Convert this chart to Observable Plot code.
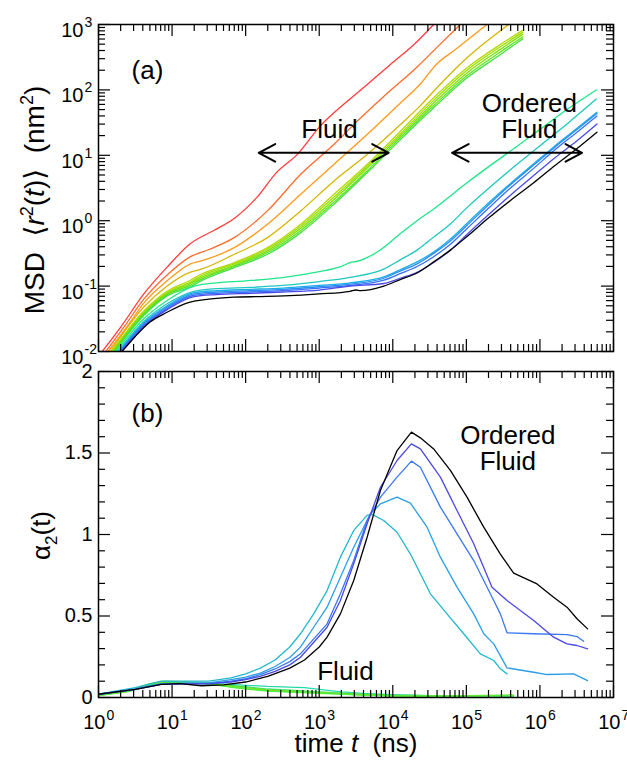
<!DOCTYPE html>
<html><head><meta charset="utf-8">
<script src="https://cdn.jsdelivr.net/npm/d3@7"></script>
<script src="https://cdn.jsdelivr.net/npm/@observablehq/plot@0.6"></script>
<style>
body{margin:0;background:#fff;}
#chart{width:627px;}
#chart svg{display:block;}
</style>
</head><body><div id="chart"></div>
<script>
// ---------- Panel (a): MSD, values as [log10 t(ns), log10 MSD(nm^2)] ----------
const msdRed     = [[0.05,-2.0],[0.3,-1.63],[0.616,-1.12],[0.933,-0.71],[1.25,-0.35],[1.567,-0.15],[1.84,0.03],[2.156,0.36],[2.43,0.75],[2.7,1.01],[3.016,1.45],[3.333,1.78],[3.65,2.08],[3.968,2.39],[4.285,2.69],[4.556,3.0]];
const msdOrangeRed = [[0.1,-2.0],[0.35,-1.62],[0.616,-1.2],[0.933,-0.83],[1.25,-0.55],[1.5,-0.44],[1.839,-0.262],[2.292,0.146],[2.745,0.706],[3.198,1.165],[3.515,1.52],[3.877,1.9],[4.33,2.35],[4.6,2.65],[4.918,3.0]];
const msdOrange  = [[0.13,-2.0],[0.4,-1.6],[0.616,-1.26],[0.933,-0.92],[1.25,-0.66],[1.386,-0.619],[1.839,-0.415],[2.292,-0.058],[2.745,0.4],[3.198,0.859],[3.65,1.318],[4.104,1.8],[4.375,2.09],[4.6,2.4],[4.83,2.6],[5.28,3.0]];
const msdGold    = [[0.16,-2.0],[0.616,-1.32],[0.933,-1.0],[1.25,-0.787],[1.386,-0.746],[1.839,-0.517],[2.292,-0.262],[2.745,0.146],[3.198,0.604],[3.65,1.012],[4.104,1.471],[4.375,1.76],[4.556,1.98],[5.009,2.49],[5.575,3.0]];
const msdGreen1  = [[0.18,-2.0],[0.616,-1.38],[0.933,-1.08],[1.25,-0.91],[1.386,-0.823],[1.839,-0.644],[2.292,-0.415],[2.745,-0.058],[3.198,0.4],[3.65,0.859],[4.104,1.369],[4.556,1.879],[5.009,2.337],[5.462,2.694],[5.765,2.91]];
const msdGreen2  = [[0.19,-2.0],[0.616,-1.4],[0.933,-1.1],[1.25,-0.94],[1.386,-0.85],[1.839,-0.665],[2.292,-0.44],[2.745,-0.09],[3.198,0.36],[3.65,0.83],[4.104,1.33],[4.556,1.84],[5.009,2.3],[5.462,2.66],[5.765,2.88]];
const msdGreen3  = [[0.2,-2.0],[0.616,-1.42],[0.933,-1.12],[1.25,-0.96],[1.386,-0.875],[1.839,-0.685],[2.292,-0.465],[2.745,-0.12],[3.198,0.32],[3.65,0.8],[4.104,1.3],[4.556,1.8],[5.009,2.26],[5.462,2.62],[5.765,2.85]];
const msdGreen4  = [[0.21,-2.0],[0.616,-1.43],[0.933,-1.13],[1.25,-0.985],[1.386,-0.9],[1.839,-0.7],[2.292,-0.49],[2.745,-0.155],[3.198,0.28],[3.65,0.76],[4.104,1.27],[4.556,1.76],[5.009,2.22],[5.462,2.58],[5.765,2.81]];
const msdGreen5  = [[0.22,-2.0],[0.616,-1.45],[0.933,-1.15],[1.25,-1.01],[1.386,-0.925],[1.839,-0.72],[2.292,-0.517],[2.745,-0.186],[3.198,0.248],[3.65,0.732],[4.104,1.24],[4.556,1.726],[5.009,2.184],[5.462,2.541],[5.765,2.78]];
const msdSpring  = [[0.24,-2.0],[0.616,-1.5],[0.933,-1.22],[1.3,-1.0],[1.6,-0.95],[2.0,-0.92],[2.5,-0.87],[3.0,-0.78],[3.3,-0.7],[3.42,-0.64],[3.52,-0.62],[3.8,-0.47],[4.1,-0.2],[4.33,0.0],[4.556,0.18],[5.009,0.58],[5.37,0.88],[5.643,1.1],[6.005,1.4],[6.368,1.7],[6.766,2.0]];
const msdTeal    = [[0.26,-2.0],[0.616,-1.54],[0.933,-1.27],[1.3,-1.08],[1.6,-1.04],[2.065,-1.02],[2.5,-0.99],[3.0,-0.93],[3.424,-0.865],[3.877,-0.74],[4.1,-0.6],[4.33,-0.45],[4.556,-0.25],[4.783,-0.05],[5.009,0.2],[5.37,0.56],[5.643,0.82],[6.005,1.15],[6.368,1.48],[6.766,1.86]];
const msdLightBlue = [[0.28,-2.0],[0.616,-1.56],[0.933,-1.3],[1.3,-1.1],[1.6,-1.07],[2.065,-1.05],[2.5,-1.03],[3.0,-0.99],[3.424,-0.95],[3.877,-0.86],[4.1,-0.75],[4.33,-0.63],[4.556,-0.48],[4.783,-0.28],[5.0,-0.05],[5.3,0.27],[5.6,0.57],[5.915,0.87],[6.2,1.14],[6.5,1.41],[6.775,1.66]];
const msdBlue    = [[0.29,-2.0],[0.616,-1.58],[0.933,-1.32],[1.3,-1.12],[1.6,-1.09],[2.065,-1.07],[2.5,-1.05],[3.0,-1.01],[3.424,-0.97],[3.877,-0.88],[4.1,-0.77],[4.33,-0.66],[4.556,-0.5],[4.783,-0.31],[5.0,-0.08],[5.3,0.24],[5.6,0.55],[5.915,0.85],[6.2,1.12],[6.5,1.39],[6.775,1.64]];
const msdBlue2   = [[0.3,-2.0],[0.616,-1.6],[0.933,-1.34],[1.3,-1.14],[1.6,-1.11],[2.065,-1.09],[2.5,-1.07],[3.0,-1.03],[3.424,-0.99],[3.877,-0.91],[4.1,-0.81],[4.33,-0.7],[4.556,-0.55],[4.783,-0.36],[5.0,-0.13],[5.3,0.19],[5.6,0.5],[5.915,0.8],[6.2,1.08],[6.5,1.35],[6.775,1.6]];
const msdViolet  = [[0.31,-2.0],[0.616,-1.62],[0.933,-1.36],[1.3,-1.16],[1.6,-1.13],[2.065,-1.11],[2.5,-1.09],[3.0,-1.06],[3.424,-1.0],[3.877,-0.96],[4.1,-0.88],[4.33,-0.79],[4.556,-0.64],[4.783,-0.45],[5.0,-0.22],[5.3,0.09],[5.6,0.39],[5.915,0.69],[6.2,0.96],[6.5,1.22],[6.775,1.48]];
const msdBlack   = [[0.32,-2.0],[0.5,-1.77],[0.7,-1.55],[0.933,-1.4],[1.2,-1.26],[1.5,-1.2],[1.84,-1.17],[2.2,-1.16],[2.52,-1.15],[3.0,-1.12],[3.42,-1.08],[3.5,-1.06],[3.56,-1.07],[3.877,-1.0],[4.1,-0.9],[4.33,-0.8],[4.556,-0.63],[4.783,-0.45],[5.0,-0.25],[5.3,0.04],[5.6,0.31],[5.915,0.58],[6.2,0.84],[6.5,1.1],[6.775,1.353]];

const msdSeries = [msdRed,msdOrangeRed,msdOrange,msdGold,msdGreen1,msdGreen2,msdGreen3,msdGreen4,msdGreen5,msdSpring,msdTeal,msdLightBlue,msdBlue,msdBlue2,msdViolet,msdBlack];
const msdNames  = ["red","orangered","orange","gold","g1","g2","g3","g4","g5","spring","teal","lightblue","blue","blue2","violet","black"];
const msdColors = ["#ff3b3b","#ff6a2a","#ff9a1a","#d6b400","#b4d800","#98dc00","#7ce000","#5ee020","#44e040","#1ee68a","#1ec8c0","#1aaee8","#2a8cf2","#3470f8","#4a4ae8","#000000"];

// ---------- Panel (b): alpha_2, values as [log10 t(ns), alpha2] ----------
const a2Teal = [[0,0.02],[0.5,0.06],[0.85,0.1],[1.2,0.1],[1.5,0.1],[1.8,0.12],[2.0,0.145],[2.2,0.18],[2.4,0.23],[2.6,0.31],[2.745,0.391],[2.925,0.513],[3.107,0.656],[3.288,0.861],[3.469,1.025],[3.651,1.117],[3.719,1.123],[3.877,1.086],[4.058,1.014],[4.24,0.88],[4.512,0.636],[4.737,0.513],[4.964,0.391],[5.19,0.268],[5.372,0.227],[5.462,0.176],[5.553,0.145]];
const a2LightBlue = [[0,0.02],[0.5,0.055],[0.85,0.085],[1.2,0.09],[1.5,0.09],[1.8,0.11],[2.0,0.125],[2.2,0.15],[2.4,0.19],[2.6,0.245],[2.745,0.309],[2.925,0.431],[3.107,0.554],[3.288,0.738],[3.469,0.922],[3.695,1.127],[3.832,1.188],[4.058,1.229],[4.24,1.192],[4.466,1.045],[4.647,0.861],[4.873,0.677],[5.1,0.513],[5.236,0.391],[5.372,0.329],[5.553,0.182],[5.915,0.155],[6.096,0.141],[6.458,0.145],[6.648,0.104]];
const a2Blue = [[0,0.02],[0.5,0.05],[0.85,0.08],[1.2,0.085],[1.5,0.085],[1.8,0.1],[2.0,0.115],[2.2,0.14],[2.4,0.175],[2.6,0.22],[2.745,0.268],[3.107,0.452],[3.288,0.636],[3.469,0.84],[3.651,1.086],[3.832,1.229],[4.058,1.352],[4.253,1.45],[4.375,1.413],[4.647,1.168],[4.873,1.004],[5.1,0.84],[5.372,0.595],[5.462,0.513],[5.553,0.397],[5.915,0.391],[6.368,0.386],[6.504,0.374],[6.594,0.345]];
const a2Violet = [[0,0.02],[0.5,0.05],[0.85,0.08],[1.2,0.085],[1.5,0.083],[1.8,0.095],[2.0,0.11],[2.2,0.13],[2.4,0.16],[2.6,0.2],[2.745,0.247],[3.107,0.431],[3.288,0.595],[3.469,0.82],[3.651,1.066],[3.832,1.29],[4.058,1.454],[4.253,1.556],[4.375,1.525],[4.647,1.352],[4.873,1.147],[5.1,0.943],[5.349,0.677],[5.553,0.595],[5.915,0.472],[6.186,0.37],[6.368,0.329],[6.504,0.319],[6.648,0.299]];
const a2Black = [[0,0.02],[0.5,0.05],[0.85,0.08],[1.1,0.085],[1.4,0.072],[1.7,0.078],[2.0,0.095],[2.3,0.13],[2.6,0.18],[2.8,0.23],[3.0,0.31],[3.107,0.37],[3.288,0.513],[3.469,0.718],[3.651,0.983],[3.832,1.27],[4.058,1.515],[4.253,1.628],[4.375,1.593],[4.556,1.525],[4.783,1.393],[5.009,1.229],[5.236,1.045],[5.462,0.88],[5.643,0.763],[5.96,0.697],[6.186,0.615],[6.368,0.554],[6.504,0.483],[6.648,0.421]];
const a2Fluid1 = [[0,0.015],[0.4,0.04],[0.7,0.08],[0.9,0.098],[1.2,0.092],[1.5,0.087],[1.8,0.08],[2.0,0.075],[2.3,0.068],[2.6,0.064],[2.8,0.06],[3.0,0.05],[3.3,0.035],[3.6,0.025],[4.0,0.018],[4.5,0.012],[5.0,0.012],[5.3,0.01],[5.64,0.008]];
const a2Fluid2 = [[0,0.015],[0.4,0.042],[0.7,0.085],[0.9,0.1],[1.2,0.095],[1.5,0.09],[1.8,0.075],[2.0,0.065],[2.3,0.052],[2.6,0.045],[3.0,0.035],[3.5,0.022],[4.0,0.014],[4.5,0.012],[5.0,0.012],[5.64,0.012]];
const a2Fluid3 = [[0,0.014],[0.4,0.04],[0.7,0.08],[0.9,0.095],[1.2,0.093],[1.5,0.088],[1.8,0.07],[2.0,0.06],[2.3,0.047],[2.6,0.04],[3.0,0.03],[3.5,0.02],[4.0,0.012],[4.5,0.01],[5.0,0.012],[5.64,0.015]];
const a2Fluid4 = [[0,0.013],[0.4,0.038],[0.7,0.077],[0.9,0.092],[1.2,0.09],[1.5,0.085],[1.8,0.066],[2.0,0.055],[2.3,0.043],[2.6,0.036],[3.0,0.028],[3.5,0.018],[4.0,0.01],[4.5,0.009],[5.0,0.01],[5.64,0.013]];
const a2Fluid5 = [[0,0.012],[0.4,0.036],[0.7,0.075],[0.9,0.09],[1.2,0.092],[1.5,0.082],[1.8,0.064],[2.0,0.052],[2.3,0.04],[2.6,0.033],[3.0,0.025],[3.5,0.016],[4.0,0.009],[4.5,0.008],[5.0,0.009],[5.64,0.011]];

const a2Series = [a2Fluid1,a2Fluid2,a2Fluid3,a2Fluid4,a2Fluid5,a2Teal,a2LightBlue,a2Blue,a2Violet,a2Black];
const a2Names  = ["f1","f2","f3","f4","f5","teal","lightblue","blue","violet","black"];
const a2Colors = ["#26d8a8","#3ee070","#5ee034","#80e010","#4ef040","#22b8cc","#2a9ee6","#3a78f0","#4a48e6","#000000"];

// ---------- ticks & labels ----------
const xMajor = [1,10,100,1e3,1e4,1e5,1e6,1e7];
const xExp   = ["0","1","2","3","4","5","6","7"];
const xMinor = [0,1,2,3,4,5,6].flatMap(k => [2,3,4,5,6,7,8,9].map(m => m * 10 ** k));
const yMajorA = [1e-2,1e-1,1,10,100,1e3];
const yExpA   = ["-2","-1","0","1","2","3"];
const yMinorA = [-2,-1,0,1,2].flatMap(k => [2,3,4,5,6,7,8,9].map(m => m * 10 ** k));
const yMajorB = [0,0.5,1,1.5,2];
const yLabelB = ["0","0.5","1","1.5","2"];
const yMinorB = [0.1,0.2,0.3,0.4,0.6,0.7,0.8,0.9,1.1,1.2,1.3,1.4,1.6,1.7,1.8,1.9];

const MSD_TITLE = "MSD  \u27e8r2(t)\u27e9  (nm2)";
const A2_TITLE = "\u03b12(t)";
const X_TITLE = "time t  (ns)";

const FONT = "'Liberation Sans', Arial, Helvetica, 'DejaVu Sans', sans-serif";
const W = 627;

function rows(series, names, isLogY) {
  return series.flatMap((s, i) => s.map(([lt, v]) => ({s: names[i], t: 10 ** lt, v: isLogY ? 10 ** v : v})));
}

function frameTicks(iw, ih, xMaj, xMin, yMaj, yMin) {
  const M = 12, m = 7, sw = 1.2;
  return [
    Plot.ruleX(xMaj, {x: d => d, insetTop: ih - M, strokeWidth: sw}),
    Plot.ruleX(xMaj, {x: d => d, insetBottom: ih - M, strokeWidth: sw}),
    Plot.ruleX(xMin, {x: d => d, insetTop: ih - m, strokeWidth: sw}),
    Plot.ruleX(xMin, {x: d => d, insetBottom: ih - m, strokeWidth: sw}),
    Plot.ruleY(yMaj, {y: d => d, insetRight: iw - M, strokeWidth: sw}),
    Plot.ruleY(yMaj, {y: d => d, insetLeft: iw - M, strokeWidth: sw}),
    Plot.ruleY(yMin, {y: d => d, insetRight: iw - m, strokeWidth: sw}),
    Plot.ruleY(yMin, {y: d => d, insetLeft: iw - m, strokeWidth: sw})
  ];
}

function arrowPair(lo, hi, yv) {
  const mid = Math.sqrt(lo * hi);
  return [{x1: mid, x2: lo, y: yv}, {x1: mid, x2: hi, y: yv}];
}

// ---------- Panel (a) ----------
const mA = {top: 24, right: 14, bottom: 9, left: 98};
const hA = 360;
const iwA = W - mA.left - mA.right, ihA = hA - mA.top - mA.bottom;
const arrowsA = [...arrowPair(10 ** 2.178, 10 ** 3.944, 10.9), ...arrowPair(10 ** 4.806, 10 ** 6.572, 10.9)];

const plotA = Plot.plot({
  width: W, height: hA,
  marginTop: mA.top, marginRight: mA.right, marginBottom: mA.bottom, marginLeft: mA.left,
  x: {type: "log", domain: [1, 1e7], axis: null},
  y: {type: "log", domain: [1e-2, 1e3], axis: null},
  color: {domain: msdNames, range: msdColors},
  style: {fontFamily: FONT, fontSize: "20px", background: "white", overflow: "visible", color: "black"},
  marks: [
    Plot.line(rows(msdSeries, msdNames, true), {x: "t", y: "v", z: "s", stroke: "s", strokeWidth: 1.3, curve: "monotone-x", clip: true}),
    ...frameTicks(iwA, ihA, xMajor, xMinor, yMajorA, yMinorA),
    Plot.frame({strokeWidth: 1.5}),
    Plot.text(yMajorA, {y: d => d, text: () => "10", frameAnchor: "left", dx: -15, dy: 6, textAnchor: "end", lineAnchor: "middle", fontSize: 20}),
    Plot.text(yMajorA, {y: d => d, text: (d, i) => yExpA[i], frameAnchor: "left", dx: -14, dy: -2, textAnchor: "start", lineAnchor: "middle", fontSize: 14}),
    Plot.text([MSD_TITLE], {frameAnchor: "left", dx: -63, dy: 12, rotate: -90, fontSize: 28, textAnchor: "middle", lineAnchor: "middle"}),
    Plot.text(["(a)"], {x: 10 ** 0.666, y: 10 ** 2.297, fontSize: 26, lineAnchor: "middle"}),
    Plot.text(["Fluid"], {x: 10 ** 3.139, y: 10 ** 1.394, fontSize: 26, lineAnchor: "middle"}),
    Plot.text(["Ordered\nFluid"], {x: 10 ** 5.856, y: 10 ** 1.583, fontSize: 26, lineAnchor: "middle", lineHeight: 1}),
    Plot.arrow(arrowsA, {x1: "x1", x2: "x2", y1: "y", y2: "y", stroke: "black", strokeWidth: 2, headLength: 14, headAngle: 56})
  ]
});

// ---------- Panel (b) ----------
const mB = {top: 11, right: 14, bottom: 65, left: 98};
const hB = 402;
const iwB = W - mB.left - mB.right, ihB = hB - mB.top - mB.bottom;

const plotB = Plot.plot({
  width: W, height: hB,
  marginTop: mB.top, marginRight: mB.right, marginBottom: mB.bottom, marginLeft: mB.left,
  x: {type: "log", domain: [1, 1e7], axis: null},
  y: {type: "linear", domain: [0, 2], axis: null},
  color: {domain: a2Names, range: a2Colors},
  style: {fontFamily: FONT, fontSize: "20px", background: "none", overflow: "visible", color: "black"},
  marks: [
    Plot.line(rows(a2Series, a2Names, false), {x: "t", y: "v", z: "s", stroke: "s", strokeWidth: 1.3, curve: "linear", clip: true}),
    ...frameTicks(iwB, ihB, xMajor, xMinor, yMajorB, yMinorB),
    Plot.frame({strokeWidth: 1.5}),
    Plot.text(yMajorB, {y: d => d, text: (d, i) => yLabelB[i], frameAnchor: "left", dx: -6, textAnchor: "end", lineAnchor: "middle", fontSize: 20}),
    Plot.text(xMajor, {x: d => d, text: () => "10", frameAnchor: "bottom", dx: 7, dy: 25.5, textAnchor: "end", lineAnchor: "middle", fontSize: 20}),
    Plot.text(xMajor, {x: d => d, text: (d, i) => xExp[i], frameAnchor: "bottom", dx: 8, dy: 18, textAnchor: "start", lineAnchor: "middle", fontSize: 14}),
    Plot.text([A2_TITLE], {frameAnchor: "left", dx: -57, dy: 1, rotate: -90, fontSize: 26, textAnchor: "middle", lineAnchor: "middle"}),
    Plot.text([X_TITLE], {frameAnchor: "bottom", dy: 46.5, fontSize: 26, textAnchor: "middle", lineAnchor: "middle"}),
    Plot.text(["(b)"], {x: 10 ** 0.666, y: 1.742, fontSize: 26, lineAnchor: "middle"}),
    Plot.text(["Ordered\nFluid"], {x: 10 ** 5.564, y: 1.529, fontSize: 26, lineAnchor: "middle", lineHeight: 1}),
    Plot.text(["Fluid"], {x: 10 ** 3.356, y: 0.16, fontSize: 26, lineAnchor: "middle"})
  ]
});

// rich text (italics, super/subscripts) inside the title text elements
function enrich(svg) {
  for (const el of svg.querySelectorAll("text")) {
    const c = el.textContent;
    if (c === MSD_TITLE) {
      el.innerHTML = 'MSD  \u27e8<tspan font-style="italic">r</tspan><tspan dy="-11" font-size="18">2</tspan><tspan dy="11">(</tspan><tspan font-style="italic">t</tspan>)\u27e9  (nm<tspan dy="-11" font-size="18">2</tspan><tspan dy="11">)</tspan>';
    } else if (c === A2_TITLE) {
      el.innerHTML = '\u03b1<tspan dy="7" font-size="17">2</tspan><tspan dy="-7">(t)</tspan>';
    } else if (c === X_TITLE) {
      el.innerHTML = 'time <tspan font-style="italic">t</tspan>  (ns)';
    }
  }
}
enrich(plotA); enrich(plotB);

const chart = document.getElementById("chart");
chart.appendChild(plotA);
chart.appendChild(plotB);
</script></body></html>
